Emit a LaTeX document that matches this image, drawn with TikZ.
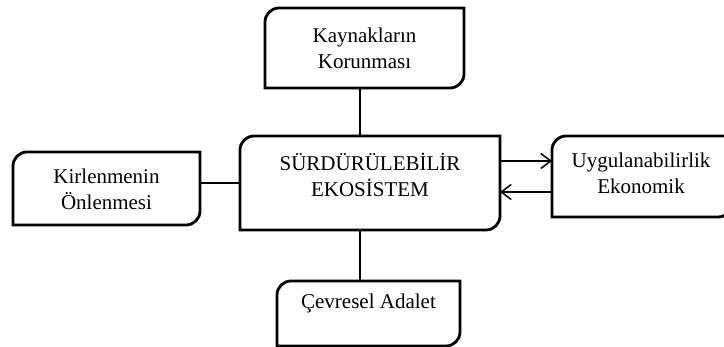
\documentclass[tikz,border=0pt]{standalone}
\usepackage{fontspec}
\setmainfont{Liberation Serif}
\usetikzlibrary{arrows.meta}

% outline with rounded top-left and bottom-right corners
\newcommand\ecobox[1]{%
  \draw[boxline] (#1.north east) -- ([xshift=14pt]#1.north west)
    arc[start angle=90,end angle=180,radius=14pt] -- (#1.south west)
    -- ([xshift=-14pt]#1.south east)
    arc[start angle=270,end angle=360,radius=14pt] -- cycle;}

\tikzset{
  holder/.style={rectangle, draw=none, inner sep=0pt, outer sep=0pt,
    minimum width=#1},
  lbl/.style={align=center, inner sep=0pt,
    font=\fontsize{21}{26}\selectfont},
  boxline/.style={line width=2.8pt, line join=miter},
  link/.style={line width=2pt},
  arr/.style={line width=1.5pt, -{Straight Barb[length=10pt,width=15pt]}}
}

\begin{document}
\begin{tikzpicture}[x=1pt,y=1pt]
\useasboundingbox (0,0) rectangle (724,346);

\node[holder=199pt, minimum height=80pt,
  label={[lbl]center:{Kaynakların\\Korunması}}] (kay) at (364.5,298) {};
\node[holder=260pt, minimum height=94pt,
  label={[lbl,yshift=8pt]center:{SÜRDÜRÜLEBİLİR\\EKOSİSTEM}}] (eco) at (370,163) {};
\node[holder=187pt, minimum height=73pt,
  label={[lbl,yshift=-1pt]center:{Kirlenmenin\\Önlenmesi}}] (kir) at (106.5,157.5) {};
\node[holder=180pt, minimum height=81pt,
  label={[lbl,yshift=3pt,xshift=-1pt]center:{Uygulanabilirlik\\Ekonomik}}] (uyg) at (642,169.5) {};
\node[holder=183pt, minimum height=65pt,
  label={[lbl,yshift=10.5pt]center:{Çevresel Adalet}}] (cev) at (368.5,32.5) {};

\ecobox{kay}
\ecobox{eco}
\ecobox{kir}
\ecobox{uyg}
\ecobox{cev}

% connectors
\draw[link] ([xshift=-4.5pt]kay.south) -- ([xshift=-4.5pt]kay.south |- eco.north);
\draw[link] ([xshift=-10pt]eco.south) -- ([xshift=-10pt]eco.south |- cev.north);
\draw[link] (eco.west) -- (eco.west -| kir.east);
\draw[arr] ([yshift=22pt]eco.east) -- ([yshift=22pt]eco.east -| uyg.west);
\draw[arr] ([yshift=-9pt]eco.east -| uyg.west) -- ([yshift=-9pt]eco.east);
\end{tikzpicture}
\end{document}
